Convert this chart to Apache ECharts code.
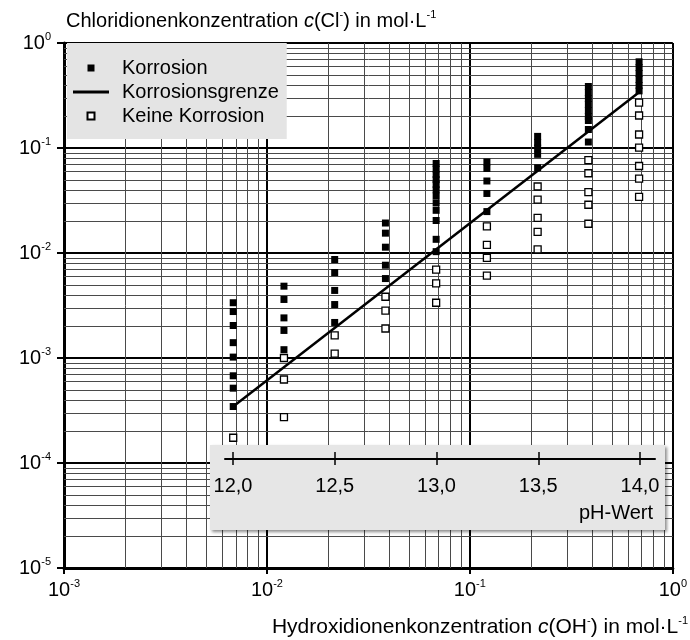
<!DOCTYPE html>
<html><head><meta charset="utf-8">
<script src="https://cdn.jsdelivr.net/npm/echarts@6/dist/echarts.min.js"></script>
<style>html,body{margin:0;padding:0;background:#fff}#c{width:690px;height:640px}</style>
</head><body><div id="c"></div>
<script>
// c(OH-) of the measurement columns (pH 12.0 ... 14.0 in steps of 0.25)
const cOH = [0.00682, 0.01213, 0.02157, 0.03836, 0.0682, 0.1213, 0.2157, 0.3836, 0.682];
// c(Cl-) values with corrosion, per column
const korrosionCl = [
  [0.00336, 0.00277, 0.00204, 0.0014, 0.00102, 0.000677, 0.000516, 0.000345],
  [0.00483, 0.00361, 0.00241, 0.00183, 0.0012],
  [0.00867, 0.00652, 0.0044, 0.00323, 0.00218],
  [0.0193, 0.01545, 0.01136, 0.00765, 0.00571],
  [0.0712, 0.063, 0.056, 0.05, 0.045, 0.04, 0.035, 0.03, 0.0255, 0.0204, 0.0135, 0.0103],
  [0.0736, 0.0638, 0.0485, 0.0369, 0.0248],
  [0.129, 0.113, 0.1, 0.087, 0.0648],
  [0.385, 0.338, 0.296, 0.2597, 0.2276, 0.1995, 0.1828, 0.15, 0.114],
  [0.662, 0.584, 0.512, 0.449, 0.394, 0.35]
];
// c(Cl-) values without corrosion, per column
const keineCl = [
  [0.000174],
  [0.001, 0.000624, 0.000273],
  [0.00164, 0.0011],
  [0.00383, 0.00283, 0.00191],
  [0.00694, 0.00513, 0.00336],
  [0.0179, 0.01197, 0.009, 0.0061],
  [0.043, 0.0323, 0.0216, 0.0159, 0.01084],
  [0.0765, 0.0575, 0.038, 0.0288, 0.019],
  [0.271, 0.204, 0.1345, 0.101, 0.0674, 0.0512, 0.0343]
];
// Korrosionsgrenze end points [c(OH-), c(Cl-)]
const grenzeOH = [0.00682, 0.682];
const grenzeCl = [0.000345, 0.34];
// minor grid values
const minorX = [0.002,0.003,0.004,0.005,0.006,0.007,0.008,0.009,0.02,0.03,0.04,0.05,0.06,0.07,0.08,0.09,0.2,0.3,0.4,0.5,0.6,0.7,0.8,0.9];
const minorY = [2e-5,3e-5,4e-5,5e-5,6e-5,7e-5,8e-5,9e-5,2e-4,3e-4,4e-4,5e-4,6e-4,7e-4,8e-4,9e-4,0.002,0.003,0.004,0.005,0.006,0.007,0.008,0.009,0.02,0.03,0.04,0.05,0.06,0.07,0.08,0.09,0.2,0.3,0.4,0.5,0.6,0.7,0.8,0.9];
// pH scale ticks
const phTicks = [12.0, 12.5, 13.0, 13.5, 14.0];
const phAxisMin = 11.9607, phAxisMax = 14.0737;

const FONT = "'Liberation Sans', Arial, sans-serif";
const toPts = (cols) => cols.flatMap((vals, i) => vals.map(v => [cOH[i], v]));
const supFmt = v => {
  const e = Math.round(Math.log10(v));
  return '{b|10}{s|' + (e < 0 ? '-' + (-e) : e) + '}';
};
const labRich = {
  b: {fontSize: 20, fontFamily: FONT, color: '#000', lineHeight: 24},
  s: {fontSize: 11, fontFamily: FONT, color: '#000', lineHeight: 11, verticalAlign: 'top'}
};
const titleRich = {
  i: {fontSize: 20, fontStyle: 'italic', fontFamily: FONT, color: '#000', lineHeight: 24},
  s: {fontSize: 11, fontFamily: FONT, color: '#000', lineHeight: 12, verticalAlign: 'top'}
};
const titleRich2 = {
  i: {fontSize: 21, fontStyle: 'italic', fontFamily: FONT, color: '#000', lineHeight: 24},
  s: {fontSize: 11, fontFamily: FONT, color: '#000', lineHeight: 12, verticalAlign: 'top'}
};

const chart = echarts.init(document.getElementById('c'), null, {renderer: 'canvas'});
chart.setOption({
  animation: false,
  backgroundColor: '#fff',
  title: [
    {text: 'Chloridionenkonzentration {i|c}(Cl{s|-}) in mol·L{s|-1}', left: 66, top: 9, padding: 0,
     textStyle: {fontSize: 20, fontWeight: 'normal', fontFamily: FONT, color: '#000', lineHeight: 24, rich: titleRich}},
    {text: 'Hydroxidionenkonzentration {i|c}(OH{s|-}) in mol·L{s|-1}', right: 2, top: 615, padding: 0,
     textStyle: {fontSize: 21, fontWeight: 'normal', fontFamily: FONT, color: '#000', lineHeight: 24, rich: titleRich2}},
    {text: 'pH-Wert', right: 37, top: 503, padding: 0, z: 20,
     textStyle: {fontSize: 20, fontWeight: 'normal', fontFamily: FONT, color: '#000'}}
  ],
  legend: {
    orient: 'vertical', left: 67, top: 43,
    padding: [15, 8, 13, 6], itemGap: 4,
    backgroundColor: '#e4e4e4',
    itemWidth: 36, itemHeight: 7,
    textStyle: {fontSize: 20, fontFamily: FONT, color: '#000', lineHeight: 20, padding: [0, 0, 0, 8]},
    data: [
      {name: 'Korrosion', icon: 'path://M0,0h10v10h-10z'},
      {name: 'Korrosionsgrenze', icon: 'path://M0,0h100v8h-100z'},
      {name: 'Keine Korrosion', icon: 'path://M0,0h10v10h-10z'}
    ]
  },
  graphic: [{
    type: 'rect', z: 10, silent: true,
    shape: {x: 210, y: 445, width: 455, height: 85},
    style: {fill: '#e6e6e6', shadowBlur: 3, shadowColor: 'rgba(0,0,0,0.45)', shadowOffsetX: 2, shadowOffsetY: 2}
  }],
  grid: [
    {left: 64, right: 15, top: 43, bottom: 72},
    {left: 225, right: 35, top: 458, height: 1}
  ],
  xAxis: [
    {type: 'log', logBase: 10, min: 0.001, max: 1, gridIndex: 0,
     axisLine: {lineStyle: {color: '#000', width: 3}},
     axisTick: {length: 6, lineStyle: {color: '#000', width: 2}},
     axisLabel: {margin: 10, formatter: supFmt, rich: labRich},
     splitLine: {show: true, lineStyle: {color: '#000', width: 2}},
     minorTick: {show: false}, minorSplitLine: {show: false}},
    {type: 'value', gridIndex: 1, min: phAxisMin, max: phAxisMax, z: 21,
     axisLine: {lineStyle: {color: '#000', width: 2}},
     axisTick: {customValues: phTicks, length: 6, lineStyle: {color: '#000', width: 1.5}},
     axisLabel: {customValues: phTicks, margin: 17, fontSize: 20, fontFamily: FONT, color: '#000',
                 formatter: v => v.toFixed(1).replace('.', ',')},
     splitLine: {show: false}},
    {type: 'value', gridIndex: 1, position: 'top', min: phAxisMin, max: phAxisMax, z: 21,
     axisLine: {show: false},
     axisTick: {customValues: phTicks, length: 6, lineStyle: {color: '#000', width: 1.5}},
     axisLabel: {show: false}, splitLine: {show: false}}
  ],
  yAxis: [
    {type: 'log', logBase: 10, min: 1e-5, max: 1, gridIndex: 0,
     axisLine: {lineStyle: {color: '#000', width: 3}},
     axisTick: {length: 7, lineStyle: {color: '#000', width: 2}},
     axisLabel: {margin: 13, formatter: supFmt, rich: labRich},
     splitLine: {show: true, lineStyle: {color: '#000', width: 2}},
     minorTick: {show: false}, minorSplitLine: {show: false}},
    {type: 'value', gridIndex: 1, show: false, min: 0, max: 1}
  ],
  series: [
    {type: 'custom', name: 'minorV', silent: true, z: 1, xAxisIndex: 0, yAxisIndex: 0,
     data: minorX.map(v => [v, 0.001]),
     renderItem: (params, api) => {
       const cs = params.coordSys;
       const x = Math.round(api.coord([api.value(0), api.value(1)])[0]) + 0.5;
       return {type: 'line', shape: {x1: x, y1: cs.y, x2: x, y2: cs.y + cs.height},
               style: {stroke: '#4a4a4a', lineWidth: 1}};
     }},
    {type: 'custom', name: 'minorH', silent: true, z: 1, xAxisIndex: 0, yAxisIndex: 0,
     data: minorY.map(v => [0.01, v]),
     renderItem: (params, api) => {
       const cs = params.coordSys;
       const y = Math.round(api.coord([api.value(0), api.value(1)])[1]) + 0.5;
       return {type: 'line', shape: {x1: cs.x, y1: y, x2: cs.x + cs.width, y2: y},
               style: {stroke: '#4a4a4a', lineWidth: 1}};
     }},
    {type: 'line', name: 'Korrosionsgrenze', xAxisIndex: 0, yAxisIndex: 0, z: 3,
     data: grenzeOH.map((x, i) => [x, grenzeCl[i]]),
     showSymbol: false, symbol: 'none',
     lineStyle: {color: '#000', width: 2.5}, itemStyle: {color: '#000'}},
    {type: 'scatter', name: 'Korrosion', xAxisIndex: 0, yAxisIndex: 0, z: 4,
     data: toPts(korrosionCl), symbol: 'rect', symbolSize: 7,
     itemStyle: {color: '#000', opacity: 1}},
    {type: 'scatter', name: 'Keine Korrosion', xAxisIndex: 0, yAxisIndex: 0, z: 4,
     data: toPts(keineCl), symbol: 'rect', symbolSize: 7,
     itemStyle: {color: '#fff', borderColor: '#000', borderWidth: 1.3, opacity: 1}}
  ]
});
</script></body></html>
